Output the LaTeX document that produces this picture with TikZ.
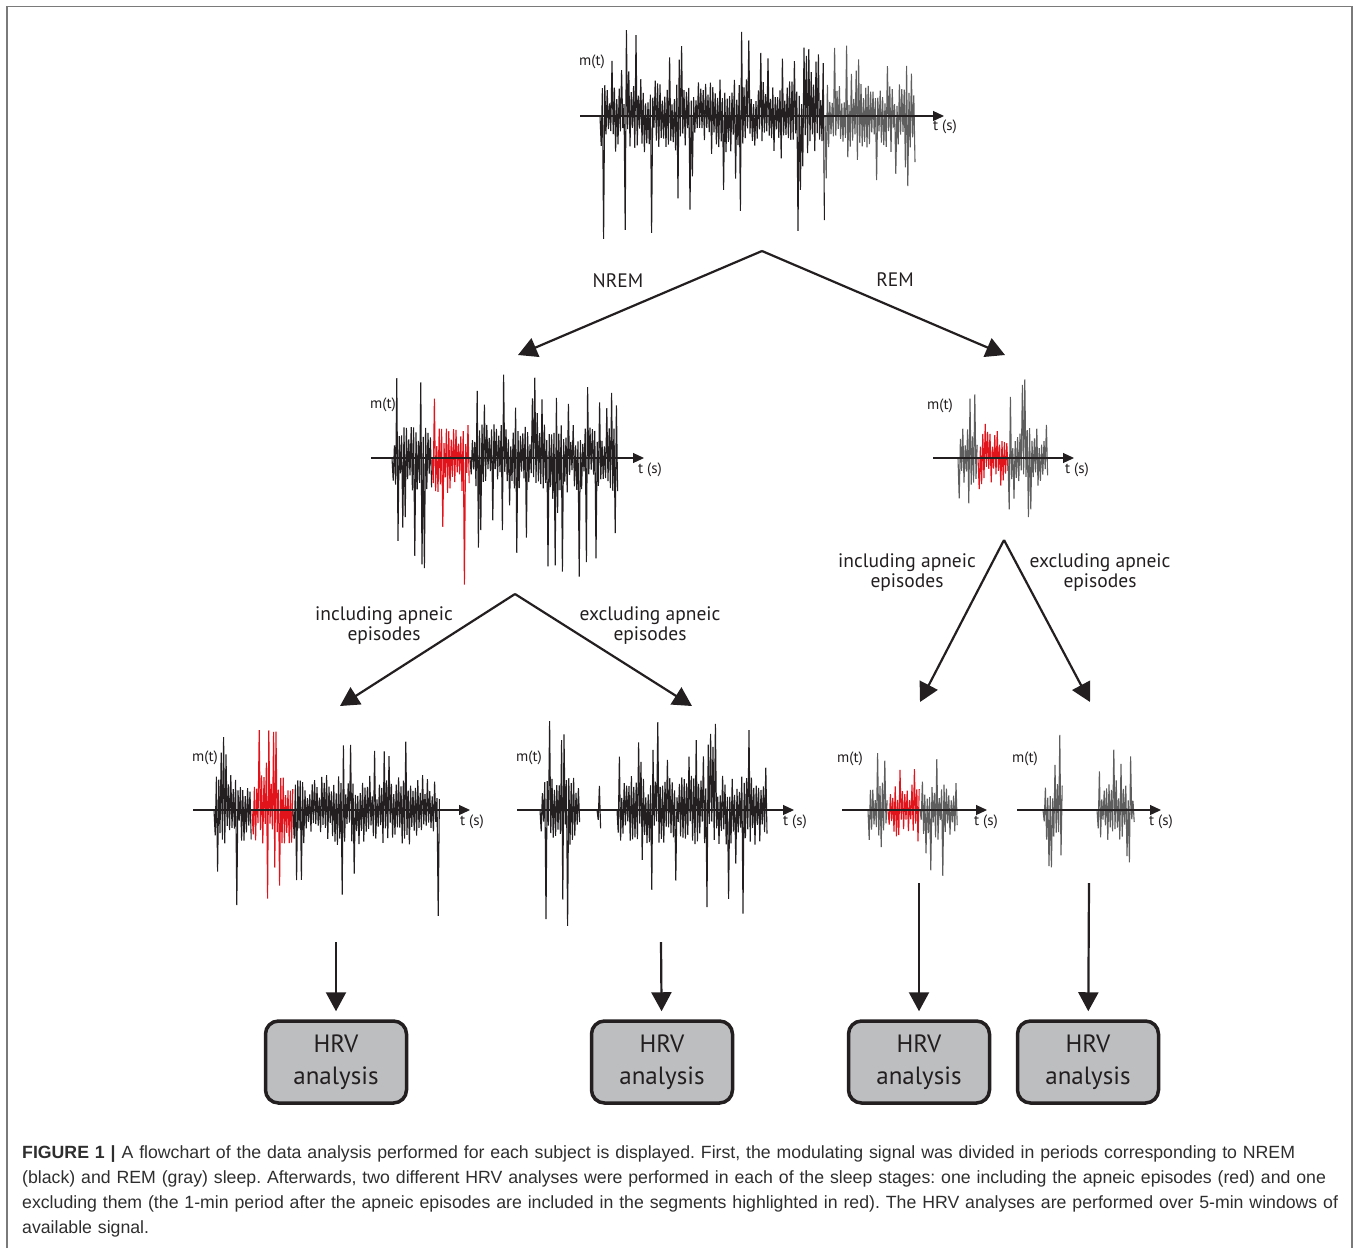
\documentclass[tikz,border=0pt]{standalone}
\usepackage{fontspec}
\setmainfont{Liberation Sans}
\newfontfamily\labelfont{PT Sans}
\usetikzlibrary{arrows.meta,positioning}
\definecolor{frm}{HTML}{7A7A7A}
\definecolor{ink}{HTML}{231F20}
\definecolor{remc}{HTML}{5E5E5E}
\definecolor{apn}{HTML}{E2141B}
\definecolor{hrvfill}{HTML}{BCBEC0}
\definecolor{capc}{HTML}{2E2E2E}
% one stretch of a modulating signal: x from, x to, axis y, core, spike up, spike down, colour
\newcommand{\trace}[7]{%
  \pgfmathtruncatemacro\npts{(#2-#1)/1.2}
  \draw[#7,line width=1.1pt,line join=bevel] (#1,#3)
    \foreach \i in {1,...,\npts}{ -- ({#1+\i*1.2},{#3-(1-2*mod(\i,2))*#4*(0.3+0.7*rnd)-(rnd>0.8)*(0.3+0.7*rnd)*(#5*(1-mod(\i,2))-#6*mod(\i,2))}) };
}
\tikzset{
  ar/.style={-{Triangle[length=19pt,width=20pt]},line width=2.2pt,draw=ink},
  axis/.style={-{Triangle[length=11pt,width=10pt]},line width=1.2pt,draw=ink},
  lbl/.style={font=\labelfont\fontsize{19.5}{20}\selectfont,align=center,text=ink},
  mt/.style={font=\labelfont\fontsize{15}{16}\selectfont,inner sep=0pt,text=ink},
  hrvbox/.style={draw=ink,line width=3.5pt,rounded corners=13pt,fill=hrvfill,minimum width=141pt,
    minimum height=82pt,align=center,font=\labelfont\fontsize{25}{32}\selectfont,text=ink},
}
\begin{document}
\begin{tikzpicture}[x=1pt,y=-1pt]
\useasboundingbox (0,0) rectangle (1360,1248);
\pgfmathsetseed{11}
\draw[frm,line width=1.5pt] (7,1248) -- (7,6.5) -- (1352,6.5) -- (1352,1248);

% whole night
\trace{600}{825}{116}{38}{50}{100}{ink}
\trace{825}{915}{116}{32}{50}{50}{remc}
\draw[axis] (580,116) -- (944,116);
\node[mt] (mall) at (592,62) {m(t)};
\node[mt] (tall) at (945,127) {t (s)};

% NREM
\trace{392}{432}{458}{35}{60}{100}{ink}
\trace{432}{470}{458}{35}{60}{100}{apn}
\trace{470}{618}{458}{35}{60}{100}{ink}
\draw[axis] (371,458) -- (644,458);
\node[mt] (mnrem) at (383,405) {m(t)};
\node[mt] (tnrem) at (650,470) {t (s)};

% REM
\trace{958}{978}{458}{30}{50}{40}{remc}
\trace{978}{1008}{458}{28}{30}{25}{apn}
\trace{1008}{1048}{458}{30}{50}{40}{remc}
\draw[axis] (933,458) -- (1074,458);
\node[mt] (mrem) at (940,406) {m(t)};
\node[mt] (trem) at (1077,470) {t (s)};

% NREM, with apneas
\trace{214}{252}{810}{35}{65}{100}{ink}
\trace{252}{293}{810}{35}{65}{100}{apn}
\trace{293}{440}{810}{35}{65}{100}{ink}
\draw[axis] (193,810) -- (470,810);
\node[mt] (mnremin) at (205,758) {m(t)};
\node[mt] (tnremin) at (472,822) {t (s)};

% NREM, without apneas
\trace{540}{580}{810}{35}{65}{100}{ink}
\trace{597}{601}{810}{28}{20}{30}{ink}
\trace{617}{767}{810}{35}{65}{100}{ink}
\draw[axis] (517,810) -- (794,810);
\node[mt] (mnremex) at (529,758) {m(t)};
\node[mt] (tnremex) at (795,822) {t (s)};

% REM, with apneas
\trace{868}{888}{810}{30}{55}{45}{remc}
\trace{888}{920}{810}{28}{30}{25}{apn}
\trace{920}{958}{810}{30}{55}{45}{remc}
\draw[axis] (842,810) -- (987,810);
\node[mt] (mremin) at (850,759) {m(t)};
\node[mt] (tremin) at (986,822) {t (s)};

% REM, without apneas
\trace{1043}{1063}{810}{30}{55}{45}{remc}
\trace{1097}{1135}{810}{30}{55}{45}{remc}
\draw[axis] (1017,810) -- (1161,810);
\node[mt] (mremex) at (1025,759) {m(t)};
\node[mt] (tremex) at (1161,822) {t (s)};

% split points and arrow ends
\coordinate (allsplit) at (762,251);
\coordinate (nremin) at (518,355);
\coordinate (remin) at (1005,355);
\coordinate (nremsplit) at (515,594);
\coordinate (nremleft) at (340,706);
\coordinate (nremright) at (692,706);
\coordinate (remsplit) at (1004,540);
\coordinate (remleft) at (920,702);
\coordinate (remright) at (1090,702);
\coordinate (outa) at (336,942);
\coordinate (outb) at (661,942);
\coordinate (outc) at (919,883);
\coordinate (outd) at (1089,883);

\draw[ar] (allsplit) -- (nremin);
\draw[ar] (allsplit) -- (remin);
\draw[ar] (nremsplit) -- (nremleft);
\draw[ar] (nremsplit) -- (nremright);
\draw[ar] (remsplit) -- (remleft);
\draw[ar] (remsplit) -- (remright);

\node[lbl] (lnrem) at (618,281) {NREM};
\node[lbl] (lrem) at (895,280) {REM};
\node[lbl] (lnremin) at (384,626) {including apneic\\episodes};
\node[lbl] (lnremex) at (650,626) {excluding apneic\\episodes};
\node[lbl] (lremin) at (907,573) {including apneic\\episodes};
\node[lbl] (lremex) at (1100,573) {excluding apneic\\episodes};

\node[hrvbox] (hrva) at (336,1062) {HRV\\analysis};
\node[hrvbox] (hrvb) at (662,1062) {HRV\\analysis};
\node[hrvbox] (hrvc) at (919,1062) {HRV\\analysis};
\node[hrvbox] (hrvd) at (1088,1062) {HRV\\analysis};
\draw[ar,shorten >=8pt] (outa) -- (hrva);
\draw[ar,shorten >=8pt] (outb) -- (hrvb);
\draw[ar,shorten >=8pt] (outc) -- (hrvc);
\draw[ar,shorten >=8pt] (outd) -- (hrvd);

\node[anchor=north west,inner sep=0pt,text width=1330pt,align=left,text=capc,
  font=\fontsize{17.7}{25}\selectfont\frenchspacing] (caption) at (22,1145)
  {\textbf{FIGURE 1 |} A flowchart of the data analysis performed for each subject is displayed. First, the modulating signal was divided in periods corresponding to NREM\\
  (black) and REM (gray) sleep. Afterwards, two different HRV analyses were performed in each of the sleep stages: one including the apneic episodes (red) and one\\
  excluding them (the 1-min period after the apneic episodes are included in the segments highlighted in red). The HRV analyses are performed over 5-min windows of\\
  available signal.};
\end{tikzpicture}
\end{document}
